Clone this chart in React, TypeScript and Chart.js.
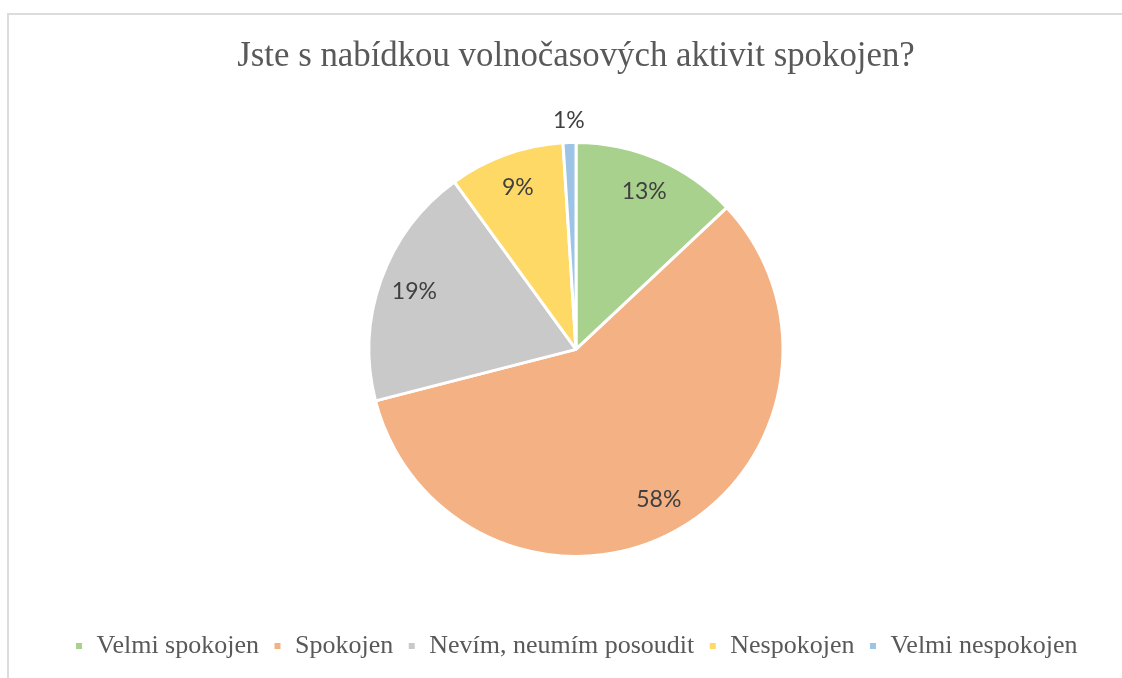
import React, { useEffect, useRef } from "react";
import { Chart, registerables } from "chart.js";

Chart.register(...registerables);

const chartTitle = "Jste s nabídkou volnočasových aktivit spokojen?";
const categories = ["Velmi spokojen", "Spokojen", "Nevím, neumím posoudit", "Nespokojen", "Velmi nespokojen"];
const percentages = [13, 58, 19, 9, 1];
const sliceColors = ["#A9D18E", "#F4B183", "#C9C9C9", "#FFD966", "#9DC3E6"];

const labelPlugin = {
  id: "sliceLabels",
  afterDatasetsDraw(chart: any) {
    const ctx = chart.ctx;
    const meta = chart.getDatasetMeta(0);
    const data = chart.data.datasets[0].data as number[];
    ctx.save();
    ctx.font = "23px Lato";
    ctx.fillStyle = "#404040";
    ctx.textAlign = "center";
    ctx.textBaseline = "middle";
    meta.data.forEach((arc: any, i: number) => {
      const p = arc.getProps(["x", "y", "startAngle", "endAngle", "outerRadius"], true);
      const mid = (p.startAngle + p.endAngle) / 2;
      const r = data[i] < 3 ? p.outerRadius + 22 : p.outerRadius * 0.83;
      ctx.fillText(data[i] + "%", p.x + Math.cos(mid) * r, p.y + Math.sin(mid) * r);
    });
    ctx.restore();
  },
};

export default function App() {
  const ref = useRef<HTMLCanvasElement>(null);
  useEffect(() => {
    if (!ref.current) return;
    const chart = new Chart(ref.current, {
      type: "pie",
      data: {
        labels: categories,
        datasets: [
          {
            data: percentages,
            backgroundColor: sliceColors,
            borderColor: "#ffffff",
            borderWidth: 3,
            radius: 207,
          } as any,
        ],
      },
      options: {
        animation: false,
        responsive: false,
        maintainAspectRatio: false,
        layout: { padding: { left: 30, right: 0, top: 0, bottom: 9 } },
        plugins: {
          tooltip: { enabled: false },
          title: {
            display: true,
            text: chartTitle,
            color: "#595959",
            font: { family: "'Liberation Serif', 'Times New Roman', serif", size: 34.8, weight: "normal" },
            padding: { top: 36, bottom: 28 },
          },
          legend: {
            display: true,
            position: "bottom",
            title: { display: true, text: "", padding: 5.8, font: { size: 12 } },
            labels: {
              color: "#595959",
              boxWidth: 9,
              boxHeight: 9,
              padding: 14,
              font: { family: "'Liberation Serif', 'Times New Roman', serif", size: 26 },
            },
          },
        },
      },
      plugins: [labelPlugin],
    });
    return () => chart.destroy();
  }, []);
  return (
    <div style={{ position: "absolute", left: 0, top: 0, width: 1122, height: 678, background: "#fff", overflow: "hidden" }}>
      <div style={{ position: "absolute", left: 7, top: 13, width: 1200, height: 700, borderLeft: "2px solid #dcdcdc", borderTop: "2px solid #dcdcdc" }} />
      <canvas ref={ref} width={1122} height={678} style={{ position: "absolute", left: 0, top: 0 }} />
    </div>
  );
}
